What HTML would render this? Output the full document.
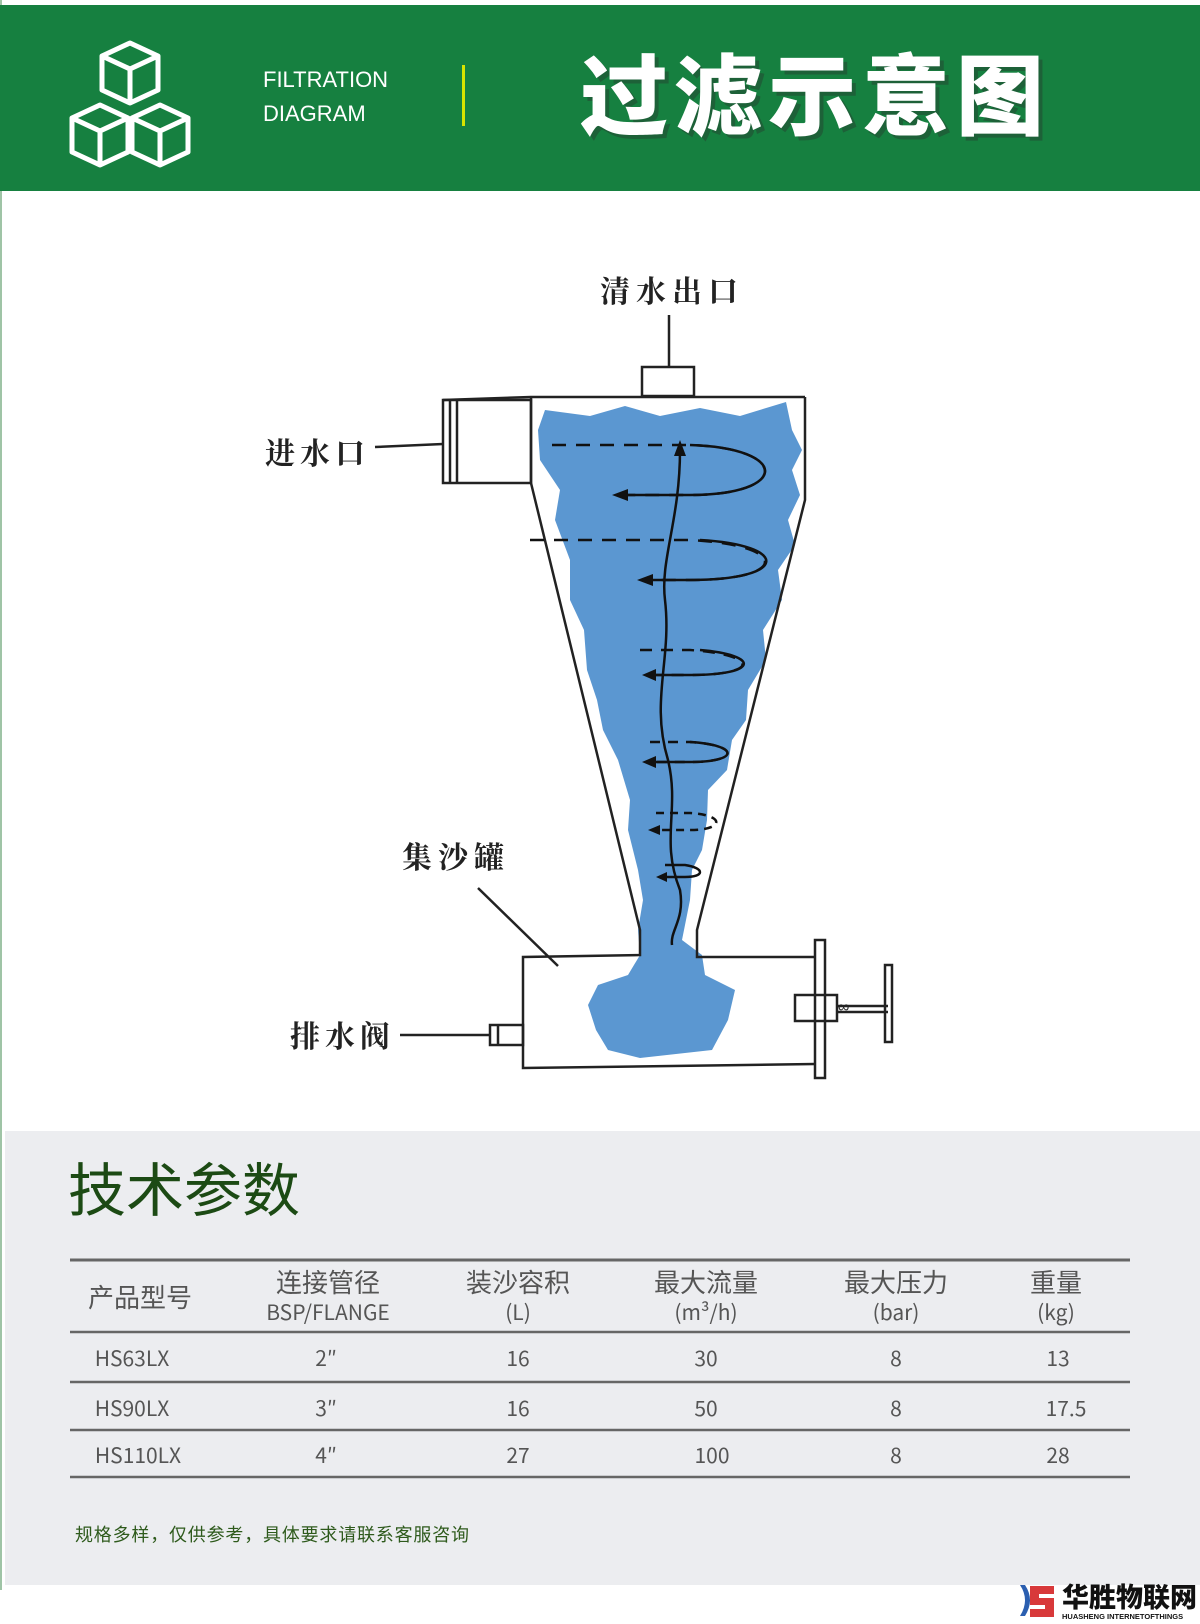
<!DOCTYPE html>
<html><head><meta charset="utf-8">
<style>
html,body{margin:0;padding:0;background:#fff;}
body{width:1200px;height:1624px;position:relative;overflow:hidden;font-family:"Liberation Sans","Noto Sans CJK SC",sans-serif;}
.abs{position:absolute;}
</style></head>
<body>
<svg class="abs" style="left:0;top:0" width="1200" height="1624" xmlns="http://www.w3.org/2000/svg">
<rect x="0" y="0" width="1200" height="1624" fill="#fff"/>
<rect x="0" y="0" width="2" height="1590" fill="#9fc4a6"/>
<rect x="0" y="5" width="1200" height="186" fill="#168040"/>
<g fill="none" stroke="#fff" stroke-width="5" stroke-linejoin="round">
<path d="M130 43 L158 56 L158 90 L130 103 L102 90 L102 56 Z M102 56 L130 69 L158 56 M130 69 L130 103"/>
<path d="M100 105 L128 118 L128 152 L100 165 L72 152 L72 118 Z M72 118 L100 131 L128 118 M100 131 L100 165"/>
<path d="M160 105 L188 118 L188 152 L160 165 L132 152 L132 118 Z M132 118 L160 131 L188 118 M160 131 L160 165"/>
</g>
<text x="263" y="87" font-family="Liberation Sans, sans-serif" font-size="22" fill="#fff">FILTRATION</text>
<text x="263" y="121" font-family="Liberation Sans, sans-serif" font-size="22" fill="#fff">DIAGRAM</text>
<rect x="462" y="65" width="3" height="61" fill="#d7e400"/>
<text x="580" y="128" font-family="Noto Sans CJK SC, sans-serif" font-weight="900" font-size="88" fill="#2a2a2a" opacity="0.35" letter-spacing="6" transform="translate(4,4)">过滤示意图</text>
<text x="580" y="128" font-family="Noto Sans CJK SC, sans-serif" font-weight="900" font-size="88" fill="#fff" letter-spacing="6">过滤示意图</text>

<g font-family="Noto Serif CJK SC, serif" font-weight="700" fill="#222" font-size="30">
<text x="600" y="302" letter-spacing="6">清水出口</text>
<text x="265" y="464" letter-spacing="5">进水口</text>
<text x="402" y="868" letter-spacing="6">集沙罐</text>
<text x="290" y="1047" letter-spacing="5">排水阀</text>
</g>

<path fill="#5b97d1" d="M545 410 L590 416 L625 406 L660 416 L700 408 L740 416 L786 402 L792 430 L802 450 L792 470 L800 495 L788 520 L795 545 L778 570 L782 600 L763 630 L766 660 L748 690 L746 720 L732 740 L727 770 L708 790 L707 820 L702 850 L692 870 L690 900 L682 940 L702 955 L705 975 L735 990 L728 1020 L712 1050 L640 1058 L608 1050 L596 1030 L588 1005 L598 985 L628 975 L640 955 L638 930 L643 900 L638 870 L628 830 L630 800 L618 760 L603 730 L597 700 L587 670 L584 630 L570 600 L570 560 L555 520 L560 490 L540 460 L538 430 Z"/>
<g fill="none" stroke="#222" stroke-width="2.5">
<line x1="669" y1="315" x2="669" y2="367"/>
<rect x="642" y="367" width="52" height="29"/>
<path d="M443 400 L531 397 L805 397"/>
<rect x="443" y="400" width="88" height="83"/>
<line x1="450" y1="400" x2="450" y2="483"/>
<line x1="457" y1="400" x2="457" y2="483"/>
<line x1="375" y1="447" x2="443" y2="444"/>
<path d="M531 397 L531 483 L640 930 L640 955 L523 957 L523 1068 L815 1064"/>
<path d="M805 397 L805 500 L697 930 L697 957 L815 957"/>
<rect x="815" y="940" width="10" height="138"/>
<rect x="795" y="995" width="42" height="26"/>
<line x1="837" y1="1006" x2="888" y2="1006"/>
<line x1="837" y1="1012" x2="888" y2="1012"/>
<rect x="885" y="965" width="7" height="77"/>
<rect x="490" y="1025" width="33" height="20"/>
<line x1="498" y1="1025" x2="498" y2="1045"/>
<line x1="400" y1="1035" x2="490" y2="1035"/>
<line x1="478" y1="888" x2="558" y2="966"/>
</g>
<text x="838" y="1012" font-size="16" fill="#222">∞</text>

<g fill="none" stroke="#111" stroke-width="2.5">
<path d="M552 445 L690 445 C790 448 790 495 690 495 L625 495" stroke-dasharray="14 10"/>
<path d="M690 445 C790 448 790 495 690 495 L625 495"/>
<path d="M530 540 L690 540 C790 545 790 580 690 580 L650 580" stroke-dasharray="14 10"/>
<path d="M700 540 C790 545 790 580 690 580 L650 580"/>
<path d="M640 650 L690 650 C760 655 760 675 690 675 L650 675" stroke-dasharray="12 9"/>
<path d="M700 650 C760 655 760 675 690 675 L650 675"/>
<path d="M650 742 L690 742 C740 745 740 762 690 762 L650 762" stroke-dasharray="10 8"/>
<path d="M690 742 C740 745 740 762 690 762 L650 762"/>
<path d="M656 813 L690 813 C725 815 725 830 690 830 L655 830" stroke-dasharray="8 6"/>
<path d="M665 865 L685 865 C705 868 705 877 685 877 L662 877"/>
<path d="M680 450 C680 520 660 560 665 600 C672 660 650 700 668 760 C680 810 660 840 680 890 C685 920 670 930 672 945"/>
</g>
<g fill="#111">
<path d="M680 440 L674 456 L686 456 Z"/>
<path d="M612 495 L628 489 L628 501 Z"/>
<path d="M637 580 L653 574 L653 586 Z"/>
<path d="M642 675 L656 669 L656 681 Z"/>
<path d="M642 762 L656 756 L656 768 Z"/>
<path d="M648 830 L660 825 L660 835 Z"/>
<path d="M656 877 L667 872 L667 882 Z"/>
</g>

<rect x="5" y="1131" width="1195" height="454" fill="#ecedf0"/>
<text x="68" y="1211" font-family="Noto Sans CJK SC, sans-serif" font-size="58" fill="#1c4a14">技术参数</text>
<g stroke="#666">
<line x1="70" y1="1260" x2="1130" y2="1260" stroke-width="3"/>
<line x1="70" y1="1332" x2="1130" y2="1332" stroke-width="2.5"/>
<line x1="70" y1="1382" x2="1130" y2="1382" stroke-width="2.5"/>
<line x1="70" y1="1430" x2="1130" y2="1430" stroke-width="2.5"/>
<line x1="70" y1="1477" x2="1130" y2="1477" stroke-width="2.5"/>
</g>
<g font-family="Noto Sans CJK SC, sans-serif" fill="#555" text-anchor="middle">
<g font-size="26">
<text x="140" y="1307">产品型号</text>
<text x="328" y="1292">连接管径</text>
<text x="518" y="1292">装沙容积</text>
<text x="706" y="1292">最大流量</text>
<text x="896" y="1292">最大压力</text>
<text x="1056" y="1292">重量</text>
</g>
<g font-size="21">
<text x="328" y="1320">BSP/FLANGE</text>
<text x="518" y="1320">(L)</text>
<text x="706" y="1320">(m³/h)</text>
<text x="896" y="1320">(bar)</text>
<text x="1056" y="1320">(kg)</text>
</g>
<g font-size="21">
<text x="132" y="1366">HS63LX</text><text x="326" y="1366">2″</text><text x="518" y="1366">16</text><text x="706" y="1366">30</text><text x="896" y="1366">8</text><text x="1058" y="1366">13</text>
<text x="132" y="1416">HS90LX</text><text x="326" y="1416">3″</text><text x="518" y="1416">16</text><text x="706" y="1416">50</text><text x="896" y="1416">8</text><text x="1066" y="1416">17.5</text>
<text x="138" y="1463">HS110LX</text><text x="326" y="1463">4″</text><text x="518" y="1463">27</text><text x="712" y="1463">100</text><text x="896" y="1463">8</text><text x="1058" y="1463">28</text>
</g>
</g>
<text x="75" y="1541" font-family="Noto Sans CJK SC, sans-serif" font-size="18" fill="#2e5a1c" letter-spacing="0.8">规格多样，仅供参考，具体要求请联系客服咨询</text>

<path d="M1020 1585 Q1030 1600 1020 1616 L1025 1616 Q1035 1600 1025 1585 Z" fill="#2b5fb0"/>
<path d="M1030 1586 L1054 1586 L1054 1594 L1039 1594 L1039 1598 L1054 1598 L1054 1617 L1030 1617 L1030 1609 L1045 1609 L1045 1605 L1030 1605 Z" fill="#d8393a"/>
<text x="1062" y="1607" font-family="Noto Sans CJK SC, sans-serif" font-weight="900" font-size="27" fill="#111">华胜物联网</text>
<text x="1062" y="1619" font-family="Liberation Sans, sans-serif" font-weight="700" font-size="7.5" fill="#111">HUASHENG INTERNETOFTHINGS</text>
</svg>
</body></html>
